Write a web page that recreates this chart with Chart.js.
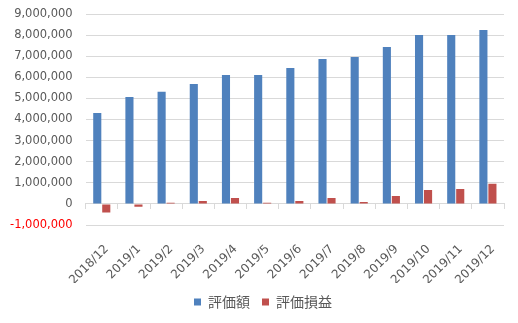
<!DOCTYPE html>
<html>
<head>
<meta charset="utf-8">
<script src="https://cdn.jsdelivr.net/npm/chart.js@4"></script>
<style>
  html, body { margin: 0; padding: 0; background: #fff; }
  #wrap { width: 518px; height: 323px; }
</style>
</head>
<body>
<div id="wrap"><canvas id="assetChart" width="518" height="323"></canvas></div>
<script>
const months = ['2018/12', '2019/1', '2019/2', '2019/3', '2019/4', '2019/5', '2019/6',
  '2019/7', '2019/8', '2019/9', '2019/10', '2019/11', '2019/12'];
const valuation = [4310000, 5070000, 5310000, 5680000, 6110000, 6110000, 6440000,
  6870000, 6960000, 7440000, 8000000, 8000000, 8240000];
const profitLoss = [-410000, -130000, 60000, 140000, 280000, 50000, 140000,
  280000, 90000, 380000, 660000, 710000, 950000];
const seriesNames = ['評価額', '評価損益'];
const yMin = -1000000;
const yMax = 9000000;
const yStep = 1000000;

const textGray = '#595959';
const gridGray = '#d9d9d9';
const fontFamily = "'DejaVu Sans', 'Noto Sans CJK JP'";

// nudge the legend a little to the right, where Excel put it
const legendNudge = {
  id: 'legendNudge',
  afterLayout(chart) {
    chart.legend.left += 6;
    chart.legend.right += 6;
  }
};

function renderChart() {
  const ctx = document.getElementById('assetChart').getContext('2d');
  new Chart(ctx, {
    type: 'bar',
    data: {
      labels: months,
      datasets: [{
        label: seriesNames[0],
        data: valuation,
        backgroundColor: '#4f81bd',
        categoryPercentage: 0.56,
        barPercentage: 0.9
      }, {
        label: seriesNames[1],
        data: profitLoss,
        backgroundColor: '#c0504d',
        categoryPercentage: 0.56,
        barPercentage: 0.9
      }]
    },
    options: {
      responsive: false,
      animation: false,
      layout: { padding: { left: 10, right: 14, top: 14, bottom: 4 } },
      plugins: {
        legend: {
          position: 'bottom',
          labels: {
            boxWidth: 7,
            boxHeight: 7,
            padding: 12,
            color: textGray,
            font: { family: "'Noto Sans CJK JP', 'DejaVu Sans'", size: 14 }
          }
        },
        tooltip: { enabled: false }
      },
      scales: {
        x: {
          offset: true,
          grid: { display: false },
          border: { display: false },
          ticks: {
            minRotation: 45,
            maxRotation: 45,
            color: textGray,
            font: { family: fontFamily, size: 12 },
            padding: 9,
            labelOffset: 5
          },
          // labels hang below the plot like Excel; keep a fixed band for them
          afterFit: (scale) => {
            scale.paddingLeft = 0;
            scale.paddingRight = 0;
            scale.height = 58;
          }
        },
        x2: {
          axis: 'x',
          type: 'category',
          position: { y: 0 },
          offset: true,
          grid: { offset: true, drawOnChartArea: false, drawTicks: true, tickLength: 5, color: gridGray },
          border: { display: true, color: gridGray },
          ticks: { display: false },
          afterFit: (scale) => {
            scale.height = 0;
          }
        },
        y: {
          min: yMin,
          max: yMax,
          grid: { color: gridGray, drawTicks: false },
          border: { display: false },
          ticks: {
            stepSize: yStep,
            padding: 13,
            font: { family: fontFamily, size: 11.5 },
            color: (c) => c.tick.value < 0 ? '#ff0000' : textGray,
            callback: (v) => v.toLocaleString('en-US')
          },
          afterFit: (scale) => {
            scale.width -= 13;
            scale.paddingTop = 0;
            scale.paddingBottom = 0;
          }
        }
      }
    },
    plugins: [legendNudge]
  });
}

document.addEventListener('DOMContentLoaded', function() {
  renderChart();
});
</script>
</body>
</html>
